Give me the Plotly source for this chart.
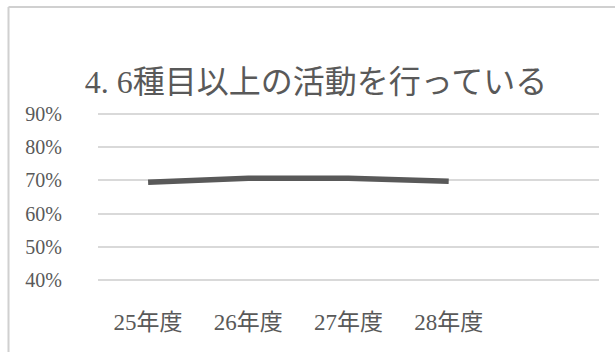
import plotly.graph_objects as go

# Survey years and share of respondents doing 6+ activities
years = ["25年度", "26年度", "27年度", "28年度"]
share = [0.694, 0.706, 0.706, 0.697]
y_ticks = [0.4, 0.5, 0.6, 0.7, 0.8, 0.9]

W, H = 615, 352
L, R, T, B = 98, 16, 112, 70

text_color = "#595959"
grid_color = "#d9d9d9"
font_family = "Liberation Serif, DejaVu Serif, Noto Sans CJK JP, serif"

positions = list(range(len(years)))

fig = go.Figure()
fig.add_trace(go.Scatter(
    x=positions,
    y=share,
    mode="lines",
    line=dict(color="#595959", width=5.5),
    hoverinfo="skip",
    showlegend=False,
))

# chart-area frame: only the left and top edges fall inside the page
pw, ph = W - L - R, H - T - B
fx0 = (8.5 - L) / pw
fy1 = (H - 7 - B) / ph
fig.add_shape(type="line", xref="paper", yref="paper",
              x0=fx0, x1=fx0, y0=-(H - T - ph + 5) / ph, y1=fy1,
              line=dict(color="#d0d0d0", width=2), layer="below")
fig.add_shape(type="line", xref="paper", yref="paper",
              x0=fx0, x1=(W + 5 - L) / pw, y0=fy1, y1=fy1,
              line=dict(color="#d0d0d0", width=2), layer="below")

fig.update_layout(
    width=W, height=H,
    margin=dict(l=L, r=R, t=T, b=B),
    paper_bgcolor="white",
    plot_bgcolor="white",
    font=dict(family=font_family, color=text_color, size=20),
    title=dict(
        text="4. 6種目以上の活動を行っている",
        x=316 / W, xanchor="center",
        y=1 - 82 / H, yanchor="middle",
        font=dict(family=font_family, size=32, color=text_color),
    ),
    xaxis=dict(
        range=[-0.5, 4.5],
        tickmode="array",
        tickvals=positions,
        ticktext=years,
        showgrid=False,
        zeroline=False,
        showline=False,
        ticks="",
        ticklabelstandoff=24,
        tickfont=dict(size=23, color=text_color),
        fixedrange=True,
    ),
    yaxis=dict(
        range=[0.395, 0.905],
        tickmode="array",
        tickvals=y_ticks,
        tickformat=".0%",
        showgrid=True,
        gridcolor=grid_color,
        gridwidth=1.5,
        zeroline=False,
        showline=False,
        ticks="",
        ticklabelstandoff=35,
        tickfont=dict(size=20, color=text_color),
        fixedrange=True,
    ),
)

fig.write_html("out.html")
